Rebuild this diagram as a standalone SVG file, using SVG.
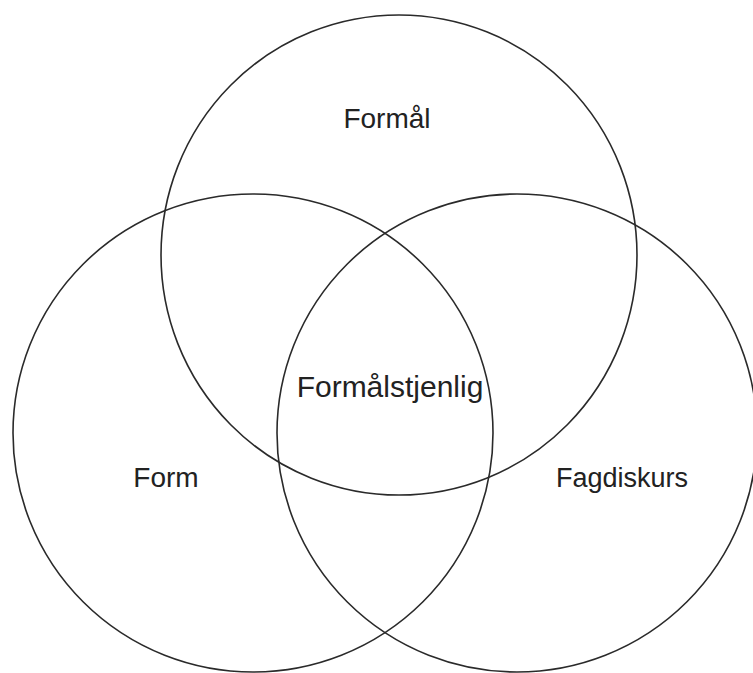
<svg xmlns="http://www.w3.org/2000/svg" width="753" height="673" viewBox="0 0 753 673">
<style>
.c{fill:none;stroke:#2a2a2a;stroke-width:1.6}
.t{font-family:"Liberation Sans",Arial,sans-serif;font-size:27px;fill:#222;text-anchor:middle}
</style>
<rect width="753" height="673" fill="#fff"/>
<g id="formal"><ellipse class="c" cx="399" cy="255" rx="238" ry="240"/><text class="t" x="387" y="128" style="font-size:28px">Formål</text></g>
<g id="form"><ellipse class="c" cx="253" cy="433" rx="240" ry="239"/><text class="t" x="166" y="487" style="font-size:28px">Form</text></g>
<g id="fagdiskurs"><ellipse class="c" cx="517" cy="433" rx="240" ry="239"/><text class="t" x="622" y="487">Fagdiskurs</text></g>
<g id="formalstjenlig"><text class="t" x="390" y="397" style="font-size:30px">Formålstjenlig</text></g>
<g id="connectors"></g>
</svg>
